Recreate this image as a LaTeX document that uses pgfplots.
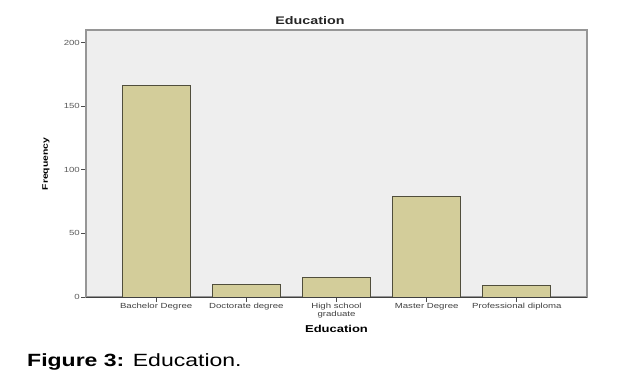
\documentclass[border=0pt]{standalone}
\usepackage{pgfplots}
\pgfplotsset{compat=1.18}
\usepackage{fontspec}
\setmainfont{Liberation Sans}[FakeStretch=1.3]
\definecolor{plotbg}{RGB}{238,238,238}
\definecolor{barfill}{RGB}{211,205,154}
\definecolor{baredge}{RGB}{80,78,60}
\definecolor{frame}{RGB}{150,150,150}
\begin{document}
\begin{tikzpicture}[x=1pt,y=1pt]
\path[use as bounding box] (0,0) rectangle (623,372);
\begin{axis}[
  at={(86pt,75pt)}, anchor=south west,
  width=501pt, height=267pt, scale only axis,
  xmin=-0.778, xmax=4.778, ymin=0, ymax=210,
  ybar, bar width=68pt,
  xtick={0,1,2,3,4},
  xticklabels={Bachelor Degree,Doctorate degree,{High school\\graduate},Master Degree,Professional diploma},
  xticklabel style={align=center, font=\fontsize{7.4}{6.5}\selectfont, text=black!75, inner sep=1pt},
  ytick={0,50,100,150,200},
  yticklabel style={font=\fontsize{7.4}{8}\selectfont, text=black!65, inner sep=1pt},
  /pgf/number format/assume math mode=true,
  tick align=outside, xtick pos=bottom, ytick pos=left,
  major tick length=5pt,
  tick style={black!70, line width=0.8pt},
  axis line style={frame, line width=1.6pt},
  axis background/.style={fill=plotbg},
  ylabel={\bfseries Frequency},
  ylabel style={font=\fontsize{8}{9}\selectfont, anchor=south},
  every axis y label/.append style={at={(-33pt,133pt)}},
  xlabel={\bfseries Education},
  xlabel style={font=\fontsize{10}{11}\selectfont},
  every axis x label/.append style={at={(250.5pt,-35pt)}, anchor=base},
  clip=false,
]
\addplot[fill=barfill, draw=baredge, line width=0.9pt] coordinates {(0,166) (1,10) (2,15) (3,79) (4,9)};
\draw[black!75, line width=1pt] (rel axis cs:0,0) -- (rel axis cs:1,0);
\end{axis}
\node[font=\fontsize{11}{12}\selectfont\bfseries, text=black!85, anchor=base] at (310,347) {Education};
\node[font=\fontsize{17.7}{20}\selectfont, anchor=base west, inner sep=0pt] at (27,6) {\textbf{Figure 3:} Education.};
\end{tikzpicture}
\end{document}
